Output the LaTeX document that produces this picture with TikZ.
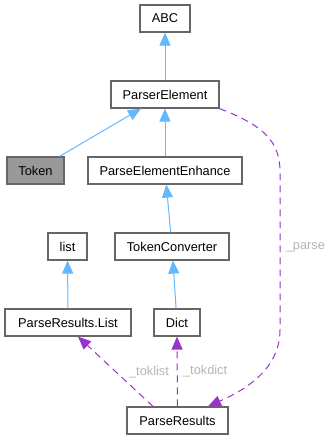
\documentclass[tikz,border=0pt]{standalone}
\usepackage{fontspec}
\setmainfont{Liberation Sans}
\usetikzlibrary{arrows.meta}
\definecolor{boxline}{HTML}{666666}
\definecolor{boxfill}{HTML}{999999}
\definecolor{inherit}{HTML}{63B8FF}
\definecolor{member}{HTML}{9A32CD}
\definecolor{labelgray}{HTML}{B4B4B4}
\tikzset{
  class node/.style={
    draw=boxline,
    line width=1.2pt,
    fill=white,
    minimum height=27pt,
    inner sep=0pt,
    font=\fontsize{12.8}{15}\selectfont,
  },
  current node/.style={
    class node,
    fill=boxfill,
  },
  inherit edge/.style={
    draw=inherit,
    line width=1pt,
    -{Triangle[length=13pt,width=11pt,fill=inherit]},
  },
  member edge/.style={
    draw=member,
    line width=1pt,
    dash pattern=on 7pt off 5pt,
    -{Triangle[length=13pt,width=11pt,fill=member]},
  },
  edge label/.style={
    text=labelgray,
    font=\fontsize{12.8}{15}\selectfont,
  },
}
\begin{document}
\begin{tikzpicture}[x=1pt,y=-1pt]
  \useasboundingbox (0,0) rectangle (332,440);

  % --- Classes ---
  \node[class node, minimum width=50pt] (abc) at (165,18.5) {ABC};
  \node[class node, minimum width=108pt] (pe) at (165,94.5) {ParserElement};
  \node[current node, minimum width=57pt] (token) at (35.5,170.5) {Token};
  \node[class node, minimum width=154pt] (pee) at (165,170.5) {ParseElementEnhance};
  \node[class node, minimum width=39pt] (list) at (67.5,246.5) {list};
  \node[class node, minimum width=114pt] (tc) at (172,246.5) {TokenConverter};
  \node[class node, minimum width=126pt] (prl) at (68,322.5) {ParseResults.List};
  \node[class node, minimum width=46pt] (dict) at (177,322.5) {Dict};
  \node[class node, minimum width=101pt] (pr) at (177.5,420.5) {ParseResults};

  % --- Inheritance ---
  \draw[inherit edge] (pe) -- (abc);
  \draw[inherit edge] (token) -- (pe);
  \draw[inherit edge] (pee) -- (pe);
  \draw[inherit edge] (tc) -- (pee);
  \draw[inherit edge] (dict) -- (tc);
  \draw[inherit edge] (prl) -- (list);

  % --- Members ---
  \draw[member edge] ([xshift=-24.5pt]pr.north) -- ([xshift=10pt]prl.south)
    node[edge label, pos=0.49, anchor=west, xshift=9pt] {\_toklist};
  \draw[member edge] (pr.north) -- (dict.south)
    node[edge label, pos=0.5, anchor=west, xshift=2pt] {\_tokdict};
  \draw[member edge] (pe.south east) .. controls (262,125) and (280,140) .. (280,172)
    -- (280,330) node[edge label, pos=0.48, anchor=west, xshift=2pt] {\_parse}
    .. controls (280,372) and (240,392) .. ([xshift=30.5pt]pr.north);
\end{tikzpicture}
\end{document}
